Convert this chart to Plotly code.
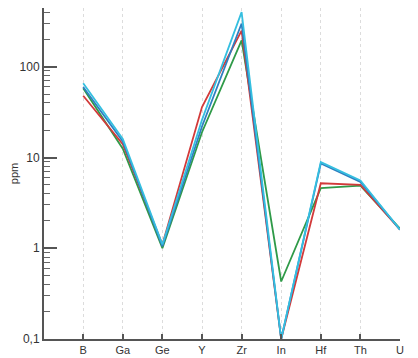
import plotly.graph_objects as go

elements = ["B", "Ga", "Ge", "Y", "Zr", "In", "Hf", "Th", "U"]
red_vals = [48, 14, 1.1, 36, 250, 0.1, 5.2, 5.0, 1.6]
green_vals = [58, 12.5, 1.0, 19, 195, 0.43, 4.6, 4.9, 1.65]
blue_vals = [60, 15, 1.05, 22, 300, 0.1, 8.6, 5.4, 1.6]
cyan_vals = [66, 16, 1.1, 26, 400, 0.1, 8.9, 5.6, 1.6]

y_tickvals = [0.1, 1, 10, 100]
y_ticktext = ["0,1", "1", "10", "100"]

series = [
    ("green", green_vals, "#2f9a48"),
    ("red", red_vals, "#d23a3a"),
    ("blue", blue_vals, "#2f7fc0"),
    ("cyan", cyan_vals, "#35bfe0"),
]

fig = go.Figure()
for name, vals, col in series:
    fig.add_trace(go.Scatter(x=elements, y=vals, mode="lines", name=name,
                             line=dict(color=col, width=1.8)))

fig.update_layout(
    width=410, height=350,
    margin=dict(l=36, r=18, t=0, b=19),
    paper_bgcolor="white", plot_bgcolor="white",
    showlegend=False,
    font=dict(family="Liberation Sans, Arial, sans-serif", size=11, color="#333"),
)
fig.update_xaxes(
    type="category", range=[-0.99, 8.0],
    showline=True, linecolor="#555", linewidth=2,
    ticks="inside", ticklen=5, tickcolor="#555", tickwidth=1.5,
    showgrid=True, gridcolor="#dcdcdc", griddash="dot", gridwidth=1,
    tickfont=dict(size=11, color="#333"), zeroline=False,
)
fig.update_yaxes(
    type="log", range=[-1, 2.648],
    showline=True, linecolor="#555", linewidth=2,
    tickvals=y_tickvals, ticktext=y_ticktext,
    ticks="inside", ticklen=13, tickcolor="#555", tickwidth=1.5,
    minor=dict(ticks="inside", ticklen=6, tickcolor="#666", tickwidth=1, dtick="D1", showgrid=False),
    showgrid=False, zeroline=False,
    tickfont=dict(size=12, color="#333"),
    title=dict(text="ppm", font=dict(size=11, color="#333"), standoff=4),
)
fig.write_html("out.html")
